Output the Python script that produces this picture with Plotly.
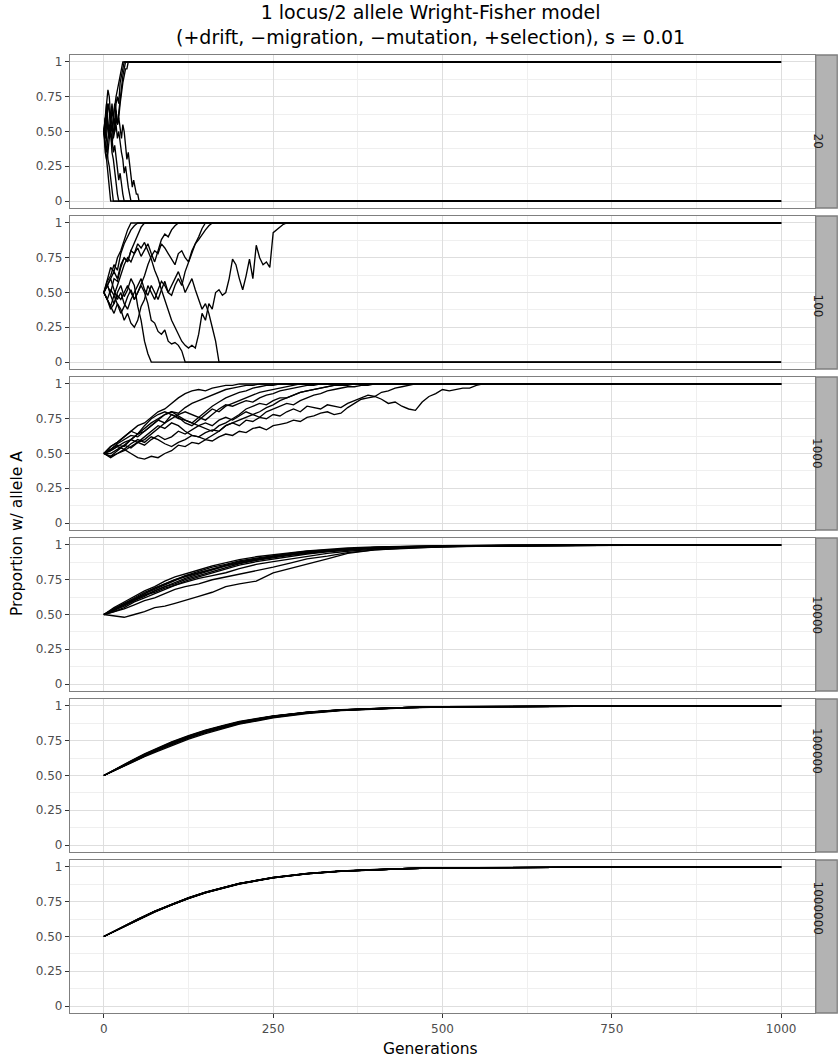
import plotly.graph_objects as go
from plotly.subplots import make_subplots

# ---------------- data ----------------
POP_SIZES = ["20", "100", "1000", "10000", "100000", "1000000"]
LAST_GENERATION = 1000

# N = 20 : values every 2 generations until fixation
N20_STEP = 2
N20_RUNS = [
    [0.5, 0.55, 0.6, 0.5, 0.45, 0.55, 0.65, 0.6, 0.7, 0.75, 0.8, 0.85, 0.9, 0.95, 1.0],
    [0.5, 0.45, 0.6, 0.7, 0.65, 0.55, 0.5, 0.6, 0.55, 0.7, 0.75, 0.7, 0.85, 0.9, 0.95, 1.0],
    [0.5, 0.6, 0.7, 0.8, 0.75, 0.6, 0.55, 0.45, 0.5, 0.6, 0.55, 0.65, 0.75, 0.8, 0.9, 0.95, 1.0],
    [0.5, 0.4, 0.35, 0.45, 0.55, 0.5, 0.4, 0.5, 0.6, 0.65, 0.55, 0.6, 0.7, 0.8, 0.85, 0.9, 0.95, 0.95, 1.0],
    [0.5, 0.35, 0.3, 0.2, 0.1, 0.0],
    [0.5, 0.6, 0.45, 0.3, 0.25, 0.15, 0.05, 0.0],
    [0.5, 0.55, 0.7, 0.6, 0.45, 0.5, 0.35, 0.3, 0.2, 0.15, 0.05, 0.0],
    [0.5, 0.45, 0.55, 0.7, 0.65, 0.5, 0.45, 0.35, 0.4, 0.3, 0.25, 0.15, 0.2, 0.1, 0.05, 0.0],
    [0.5, 0.6, 0.65, 0.55, 0.5, 0.6, 0.7, 0.6, 0.5, 0.55, 0.45, 0.5, 0.4, 0.35, 0.3, 0.2, 0.25, 0.15, 0.1, 0.05, 0.0],
    [0.5, 0.4, 0.3, 0.35, 0.45, 0.55, 0.5, 0.6, 0.7, 0.65, 0.55, 0.6, 0.5, 0.45, 0.55, 0.5, 0.4, 0.3,
     0.35, 0.25, 0.2, 0.1, 0.15, 0.1, 0.05, 0.05, 0.0],
]

# N = 100 : values every 5 generations until fixation
N100_STEP = 5
N100_RUNS = [
    [0.5, 0.56, 0.48, 0.42, 0.5, 0.55, 0.47, 0.52, 0.6, 0.55, 0.4, 0.3, 0.15, 0.06, 0.0],
    [0.5, 0.45, 0.4, 0.48, 0.42, 0.35, 0.4, 0.47, 0.52, 0.45, 0.5, 0.55, 0.5, 0.42, 0.3, 0.28, 0.22,
     0.2, 0.23, 0.15, 0.13, 0.14, 0.12, 0.08, 0.0],
    [0.5, 0.55, 0.6, 0.52, 0.45, 0.5, 0.42, 0.38, 0.45, 0.5, 0.55, 0.6, 0.52, 0.48, 0.55, 0.5, 0.45,
     0.52, 0.58, 0.5, 0.55, 0.6, 0.65, 0.58, 0.5, 0.55, 0.6, 0.52, 0.45, 0.38, 0.42, 0.35, 0.25, 0.15, 0.0],
    [0.5, 0.55, 0.6, 0.65, 0.6, 0.7, 0.75, 0.72, 0.8, 0.78, 0.85, 0.82, 0.86, 0.8, 0.74, 0.66, 0.6,
     0.52, 0.45, 0.38, 0.3, 0.25, 0.2, 0.15, 0.12, 0.1, 0.12,
     0.1, 0.2, 0.35, 0.3, 0.42, 0.38, 0.5, 0.52, 0.48, 0.5, 0.6, 0.74, 0.7, 0.6, 0.52, 0.62, 0.74,
     0.6, 0.84, 0.75, 0.7, 0.72, 0.68, 0.93, 0.95, 0.97, 0.99, 1.0],
    [0.5, 0.6, 0.68, 0.65, 0.75, 0.8, 0.88, 0.95, 1.0],
    [0.5, 0.55, 0.5, 0.6, 0.58, 0.68, 0.75, 0.72, 0.8, 0.86, 0.92, 0.97, 1.0],
    [0.5, 0.45, 0.52, 0.48, 0.55, 0.62, 0.7, 0.75, 0.72, 0.78, 0.82, 0.76, 0.8, 0.85, 0.78, 0.72,
     0.8, 0.88, 0.92, 0.9, 0.95, 0.98, 1.0],
    [0.5, 0.45, 0.4, 0.35, 0.42, 0.38, 0.3, 0.35, 0.28, 0.25, 0.3, 0.4, 0.45, 0.55, 0.5, 0.45, 0.52,
     0.58, 0.55, 0.5, 0.48, 0.55, 0.6, 0.55, 0.65, 0.72, 0.78, 0.85, 0.9, 0.96, 1.0],
    [0.5, 0.45, 0.38, 0.42, 0.48, 0.45, 0.5, 0.55, 0.5, 0.45, 0.5, 0.56, 0.62, 0.7, 0.76, 0.8, 0.78,
     0.85, 0.82, 0.78, 0.74, 0.7, 0.78, 0.8, 0.75, 0.72, 0.8, 0.85, 0.88, 0.92, 0.95, 0.98, 1.0],
    [0.5, 0.58, 0.62, 0.7, 0.66, 0.78, 0.85, 0.9, 0.95, 0.98, 1.0],
]

# N = 1000 : values every 10 generations until fixation
N1000_STEP = 10
N1000_RUNS = [
    [0.5, 0.47, 0.5, 0.53, 0.5, 0.47, 0.46, 0.48, 0.47, 0.5, 0.52, 0.56, 0.55, 0.58, 0.57, 0.6, 0.59,
     0.62, 0.64, 0.63, 0.66, 0.65, 0.68, 0.69, 0.67, 0.7, 0.71, 0.72, 0.74, 0.73, 0.76, 0.77, 0.79,
     0.8, 0.78, 0.79, 0.83, 0.86, 0.89, 0.9, 0.91, 0.89, 0.86, 0.87, 0.84, 0.82, 0.81, 0.87, 0.91,
     0.93, 0.96, 0.95, 0.96, 0.97, 0.97, 0.99, 1.0],
    [0.5, 0.52, 0.55, 0.53, 0.57, 0.6, 0.58, 0.62, 0.6, 0.57, 0.55, 0.58, 0.6, 0.63, 0.62, 0.65, 0.67,
     0.66, 0.7, 0.72, 0.7, 0.74, 0.73, 0.76, 0.75, 0.78, 0.77, 0.8, 0.82, 0.8, 0.84, 0.83, 0.82, 0.85,
     0.84, 0.83, 0.86, 0.88, 0.9, 0.92, 0.91, 0.94, 0.95, 0.97, 0.98, 0.99, 1.0],
    [0.5, 0.55, 0.58, 0.62, 0.66, 0.7, 0.72, 0.76, 0.8, 0.82, 0.86, 0.9, 0.93, 0.95, 0.96, 0.95, 0.97,
     0.98, 0.99, 0.99, 1.0],
    [0.5, 0.53, 0.57, 0.6, 0.63, 0.62, 0.66, 0.7, 0.74, 0.78, 0.8, 0.79, 0.83, 0.86, 0.88, 0.9, 0.92,
     0.94, 0.96, 0.97, 0.98, 0.99, 0.99, 1.0],
    [0.5, 0.48, 0.52, 0.56, 0.6, 0.64, 0.68, 0.72, 0.75, 0.78, 0.8, 0.77, 0.74, 0.72, 0.76, 0.8, 0.84,
     0.87, 0.9, 0.92, 0.94, 0.95, 0.97, 0.98, 0.99, 0.99, 1.0],
    [0.5, 0.5, 0.53, 0.56, 0.54, 0.58, 0.6, 0.64, 0.68, 0.72, 0.78, 0.76, 0.72, 0.7, 0.74, 0.78, 0.82,
     0.8, 0.84, 0.86, 0.88, 0.9, 0.92, 0.94, 0.95, 0.96, 0.97, 0.98, 0.99, 1.0],
    [0.5, 0.52, 0.55, 0.58, 0.6, 0.64, 0.66, 0.7, 0.74, 0.72, 0.75, 0.78, 0.8, 0.78, 0.76, 0.74, 0.78,
     0.82, 0.85, 0.84, 0.86, 0.88, 0.87, 0.9, 0.92, 0.93, 0.95, 0.96, 0.97, 0.98, 0.99, 0.99, 1.0],
    [0.5, 0.53, 0.56, 0.55, 0.6, 0.58, 0.62, 0.66, 0.7, 0.68, 0.72, 0.7, 0.66, 0.63, 0.62, 0.6, 0.63,
     0.66, 0.7, 0.72, 0.74, 0.76, 0.78, 0.8, 0.83, 0.85, 0.88, 0.9, 0.92, 0.94, 0.95, 0.96, 0.97,
     0.98, 0.99, 1.0],
    [0.5, 0.48, 0.5, 0.52, 0.55, 0.58, 0.56, 0.6, 0.63, 0.6, 0.62, 0.66, 0.64, 0.67, 0.7, 0.72, 0.7,
     0.74, 0.76, 0.74, 0.77, 0.8, 0.78, 0.76, 0.8, 0.82, 0.84, 0.86, 0.85, 0.88, 0.9, 0.92, 0.93,
     0.95, 0.96, 0.97, 0.98, 0.98, 0.99, 0.99, 1.0],
    [0.5, 0.55, 0.58, 0.62, 0.66, 0.64, 0.7, 0.75, 0.78, 0.8, 0.78, 0.75, 0.74, 0.72, 0.7, 0.68, 0.66,
     0.7, 0.72, 0.75, 0.78, 0.82, 0.84, 0.86, 0.85, 0.88, 0.9, 0.9, 0.92, 0.94, 0.95, 0.96, 0.97,
     0.98, 0.99, 0.99, 0.99, 1.0],
]

# N = 10000 : values at listed generations
N10000_GENS = [0, 15, 30, 45, 60, 75, 90, 105, 120, 140, 160, 180, 200, 225, 250, 275, 300, 330,
               360, 400, 450, 500, 550, 600, 650, 700, 750, 800, 1000]
N10000_RUNS = [
    [0.5, 0.54, 0.58, 0.62, 0.66, 0.69, 0.72, 0.75, 0.78, 0.81, 0.84, 0.86, 0.885, 0.905, 0.925, 0.94,
     0.955, 0.965, 0.975, 0.983, 0.99, 0.994, 0.996, 0.998, 0.999, 0.999, 1, 1, 1],
    [0.5, 0.53, 0.56, 0.6, 0.63, 0.67, 0.7, 0.73, 0.76, 0.79, 0.82, 0.85, 0.87, 0.895, 0.915, 0.93,
     0.945, 0.96, 0.97, 0.98, 0.987, 0.992, 0.995, 0.997, 0.998, 0.999, 1, 1, 1],
    [0.5, 0.55, 0.59, 0.63, 0.67, 0.7, 0.74, 0.77, 0.79, 0.82, 0.85, 0.875, 0.895, 0.915, 0.93, 0.945,
     0.958, 0.968, 0.978, 0.985, 0.991, 0.995, 0.997, 0.998, 0.999, 1, 1, 1, 1],
    [0.5, 0.52, 0.55, 0.59, 0.62, 0.65, 0.68, 0.71, 0.74, 0.77, 0.8, 0.83, 0.855, 0.88, 0.9, 0.92,
     0.935, 0.95, 0.962, 0.975, 0.985, 0.99, 0.994, 0.996, 0.998, 0.999, 0.999, 1, 1],
    [0.5, 0.54, 0.57, 0.61, 0.65, 0.68, 0.71, 0.745, 0.775, 0.8, 0.825, 0.85, 0.875, 0.9, 0.92, 0.935,
     0.95, 0.962, 0.972, 0.982, 0.989, 0.993, 0.99, 0.994, 0.997, 0.998, 0.999, 1, 1],
    [0.5, 0.53, 0.57, 0.6, 0.64, 0.67, 0.7, 0.72, 0.75, 0.78, 0.81, 0.84, 0.865, 0.89, 0.91, 0.925,
     0.94, 0.955, 0.968, 0.978, 0.986, 0.991, 0.994, 0.992, 0.996, 0.998, 0.999, 1, 1],
    [0.5, 0.52, 0.54, 0.57, 0.6, 0.62, 0.65, 0.68, 0.7, 0.72, 0.75, 0.77, 0.79, 0.81, 0.84, 0.87,
     0.9, 0.92, 0.945, 0.965, 0.978, 0.986, 0.99, 0.993, 0.995, 0.997, 0.998, 0.999, 1],
    [0.5, 0.49, 0.48, 0.5, 0.52, 0.55, 0.56, 0.58, 0.6, 0.63, 0.66, 0.7, 0.72, 0.74, 0.8, 0.83,
     0.86, 0.9, 0.94, 0.965, 0.98, 0.988, 0.992, 0.994, 0.996, 0.997, 0.998, 0.999, 1],
    [0.5, 0.53, 0.57, 0.61, 0.64, 0.66, 0.69, 0.71, 0.73, 0.76, 0.78, 0.8, 0.83, 0.86, 0.88, 0.9,
     0.92, 0.94, 0.955, 0.97, 0.982, 0.99, 0.994, 0.996, 0.997, 0.998, 0.999, 1, 1],
    [0.5, 0.54, 0.58, 0.61, 0.65, 0.69, 0.72, 0.75, 0.77, 0.8, 0.83, 0.855, 0.88, 0.9, 0.915, 0.93,
     0.948, 0.96, 0.97, 0.98, 0.988, 0.992, 0.995, 0.993, 0.995, 0.997, 0.998, 0.999, 1],
]

# N = 100000
N100000_GENS = [0, 20, 40, 60, 80, 100, 125, 150, 175, 200, 250, 300, 350, 400, 450, 500, 600,
                700, 800, 1000]
N100000_RUNS = [
    [0.5, 0.553, 0.603, 0.652, 0.697, 0.738, 0.783, 0.822, 0.855, 0.884, 0.926, 0.954, 0.971, 0.983, 0.99, 0.994, 0.997, 0.999, 1, 1],
    [0.5, 0.548, 0.594, 0.64, 0.682, 0.722, 0.768, 0.808, 0.843, 0.874, 0.918, 0.949, 0.968, 0.98, 0.988, 0.993, 0.997, 0.999, 1, 1],
    [0.5, 0.551, 0.6, 0.648, 0.693, 0.735, 0.782, 0.822, 0.856, 0.886, 0.927, 0.955, 0.972, 0.983, 0.99, 0.994, 0.997, 0.999, 1, 1],
    [0.5, 0.546, 0.59, 0.635, 0.676, 0.716, 0.761, 0.801, 0.837, 0.869, 0.914, 0.946, 0.966, 0.979, 0.987, 0.992, 0.996, 0.998, 1, 1],
    [0.5, 0.554, 0.606, 0.655, 0.7, 0.742, 0.787, 0.826, 0.859, 0.888, 0.929, 0.956, 0.973, 0.984, 0.99, 0.994, 0.997, 0.999, 1, 1],
    [0.5, 0.549, 0.597, 0.644, 0.688, 0.728, 0.773, 0.813, 0.848, 0.879, 0.922, 0.951, 0.97, 0.981, 0.989, 0.993, 0.997, 0.999, 1, 1],
    [0.5, 0.552, 0.6, 0.646, 0.69, 0.731, 0.777, 0.818, 0.852, 0.881, 0.924, 0.953, 0.971, 0.982, 0.989, 0.993, 0.997, 0.999, 1, 1],
    [0.5, 0.547, 0.595, 0.643, 0.686, 0.727, 0.774, 0.815, 0.85, 0.88, 0.922, 0.951, 0.969, 0.981, 0.989, 0.993, 0.997, 0.999, 1, 1],
    [0.5, 0.55, 0.599, 0.647, 0.691, 0.733, 0.779, 0.819, 0.853, 0.883, 0.925, 0.953, 0.971, 0.982, 0.989, 0.993, 0.997, 0.999, 1, 1],
    [0.5, 0.552, 0.598, 0.643, 0.687, 0.729, 0.774, 0.814, 0.849, 0.879, 0.921, 0.951, 0.97, 0.982, 0.989, 0.993, 0.997, 0.999, 1, 1],
]

# N = 1000000
N1000000_GENS = [0, 25, 50, 75, 100, 125, 150, 175, 200, 250, 300, 350, 400, 450, 500, 600, 700,
                 800, 1000]
N1000000_RUNS = [
    [0.5, 0.563, 0.624, 0.681, 0.732, 0.778, 0.818, 0.852, 0.881, 0.924, 0.953, 0.971, 0.982, 0.989, 0.993, 0.997, 0.999, 1, 1],
    [0.5, 0.561, 0.620, 0.677, 0.728, 0.774, 0.814, 0.848, 0.878, 0.922, 0.951, 0.969, 0.981, 0.988, 0.993, 0.997, 0.999, 1, 1],
    [0.5, 0.562, 0.622, 0.679, 0.730, 0.776, 0.816, 0.850, 0.880, 0.923, 0.952, 0.970, 0.982, 0.989, 0.993, 0.997, 0.999, 1, 1],
    [0.5, 0.564, 0.625, 0.683, 0.734, 0.780, 0.819, 0.853, 0.882, 0.925, 0.953, 0.971, 0.982, 0.989, 0.993, 0.997, 0.999, 1, 1],
    [0.5, 0.560, 0.619, 0.676, 0.727, 0.773, 0.813, 0.847, 0.877, 0.921, 0.950, 0.969, 0.981, 0.988, 0.993, 0.997, 0.999, 1, 1],
    [0.5, 0.562, 0.623, 0.680, 0.731, 0.777, 0.817, 0.851, 0.880, 0.923, 0.952, 0.970, 0.982, 0.989, 0.993, 0.997, 0.999, 1, 1],
    [0.5, 0.561, 0.621, 0.678, 0.729, 0.775, 0.815, 0.849, 0.879, 0.922, 0.951, 0.970, 0.981, 0.989, 0.993, 0.997, 0.999, 1, 1],
    [0.5, 0.563, 0.623, 0.680, 0.731, 0.777, 0.817, 0.851, 0.881, 0.924, 0.952, 0.970, 0.982, 0.989, 0.993, 0.997, 0.999, 1, 1],
    [0.5, 0.562, 0.621, 0.678, 0.729, 0.775, 0.815, 0.850, 0.879, 0.923, 0.952, 0.970, 0.982, 0.989, 0.993, 0.997, 0.999, 1, 1],
    [0.5, 0.562, 0.622, 0.679, 0.730, 0.776, 0.816, 0.850, 0.880, 0.923, 0.952, 0.970, 0.982, 0.989, 0.993, 0.997, 0.999, 1, 1],
]

Y_TICKS = [0, 0.25, 0.5, 0.75, 1]
Y_TICK_TEXT = ["0", "0.25", "0.50", "0.75", "1"]
X_TICKS = [0, 250, 500, 750, 1000]
X_TICK_TEXT = ["0", "250", "500", "750", "1000"]

TITLE = "1 locus/2 allele Wright-Fisher model<br>(+drift, \u2212migration, \u2212mutation, +selection), s = 0.01"
X_TITLE = "Generations"
Y_TITLE = "Proportion w/ allele A"

# ---------------- build series ----------------
def stepped(runs, step):
    out = []
    for r in runs:
        xs = [i * step for i in range(len(r))]
        ys = list(r)
        if xs[-1] < LAST_GENERATION:
            xs.append(LAST_GENERATION)
            ys.append(r[-1])
        out.append((xs, ys))
    return out

def listed(runs, gens):
    return [(list(gens), list(r)) for r in runs]

panels = [
    stepped(N20_RUNS, N20_STEP),
    stepped(N100_RUNS, N100_STEP),
    stepped(N1000_RUNS, N1000_STEP),
    listed(N10000_RUNS, N10000_GENS),
    listed(N100000_RUNS, N100000_GENS),
    listed(N1000000_RUNS, N1000000_GENS),
]

# ---------------- figure ----------------
W, H = 840, 1060
ML, MR, MT, MB = 70, 2, 55, 47
plot_w = W - ML - MR
plot_h = H - MT - MB
gap = 8
x_dom_right = (815 - ML) / plot_w

fig = make_subplots(rows=6, cols=1, shared_xaxes=True, vertical_spacing=gap / plot_h)

FONT = "DejaVu Sans"
BORDER = "#7f7f7f"
for i, runs in enumerate(panels):
    for xs, ys in runs:
        fig.add_trace(go.Scatter(x=xs, y=ys, mode="lines",
                                 line=dict(color="black", width=1.35),
                                 showlegend=False, hoverinfo="skip"),
                      row=i + 1, col=1)

minor_x = [-125 + 250 * k for k in range(6)]
minor_y = [0.125, 0.375, 0.625, 0.875]
TICKFONT = dict(family=FONT, size=12, color="#4d4d4d")
for i in range(6):
    xa = dict(range=[-50, 1050], domain=[0, x_dom_right], showgrid=True,
              gridcolor="#dedede", gridwidth=1, zeroline=False,
              showline=True, mirror=True, linecolor=BORDER, linewidth=1.3,
              tickvals=X_TICKS, ticktext=X_TICK_TEXT,
              minor=dict(tickvals=minor_x, showgrid=True, gridcolor="#efefef", gridwidth=0.7, ticks=""),
              tickfont=TICKFONT)
    if i == 5:
        xa.update(ticks="outside", ticklen=4, tickcolor="#333333", tickwidth=1, showticklabels=True)
    else:
        xa.update(ticks="", showticklabels=False)
    fig.update_xaxes(**xa, row=i + 1, col=1)
    fig.update_yaxes(range=[-0.05, 1.05], showgrid=True, gridcolor="#dedede", gridwidth=1,
                     zeroline=False, showline=True, mirror=True, linecolor=BORDER, linewidth=1.3,
                     tickvals=Y_TICKS, ticktext=Y_TICK_TEXT, ticks="outside", ticklen=4,
                     tickcolor="#333333", tickwidth=1,
                     minor=dict(tickvals=minor_y, showgrid=True, gridcolor="#efefef", gridwidth=0.7, ticks=""),
                     tickfont=TICKFONT, row=i + 1, col=1)

# facet strips
shapes = []
annotations = []
for i, label in enumerate(POP_SIZES):
    yname = "yaxis" if i == 0 else f"yaxis{i + 1}"
    dom = fig.layout[yname].domain
    shapes.append(dict(type="rect", xref="paper", yref="paper",
                       x0=x_dom_right + 0.001, x1=0.999, y0=dom[0], y1=dom[1],
                       fillcolor="#b3b3b3", line=dict(color=BORDER, width=1.3), layer="below"))
    annotations.append(dict(xref="paper", yref="paper", x=(x_dom_right + 1) / 2,
                            y=(dom[0] + dom[1]) / 2, text=label, textangle=90, showarrow=False,
                            font=dict(family=FONT, size=12, color="#1a1a1a")))

# titles
cx = (430 - ML) / plot_w
annotations.append(dict(xref="paper", yref="paper", x=cx, y=1, yshift=5, yanchor="bottom",
                        text=TITLE, showarrow=False,
                        font=dict(family=FONT, size=19, color="black")))
annotations.append(dict(xref="paper", yref="paper", x=cx, y=0, yshift=-25, yanchor="top",
                        text=X_TITLE, showarrow=False,
                        font=dict(family=FONT, size=15.5, color="black")))
annotations.append(dict(xref="paper", yref="paper", x=0, xshift=-53, y=0.5, xanchor="center",
                        text=Y_TITLE, textangle=-90, showarrow=False,
                        font=dict(family=FONT, size=15.5, color="black")))

fig.update_layout(width=W, height=H, margin=dict(l=ML, r=MR, t=MT, b=MB),
                  paper_bgcolor="white", plot_bgcolor="white",
                  shapes=shapes, annotations=annotations,
                  font=dict(family=FONT))

fig.write_html("out.html", config={"displayModeBar": False},
               post_script="document.body.style.margin='0';")
